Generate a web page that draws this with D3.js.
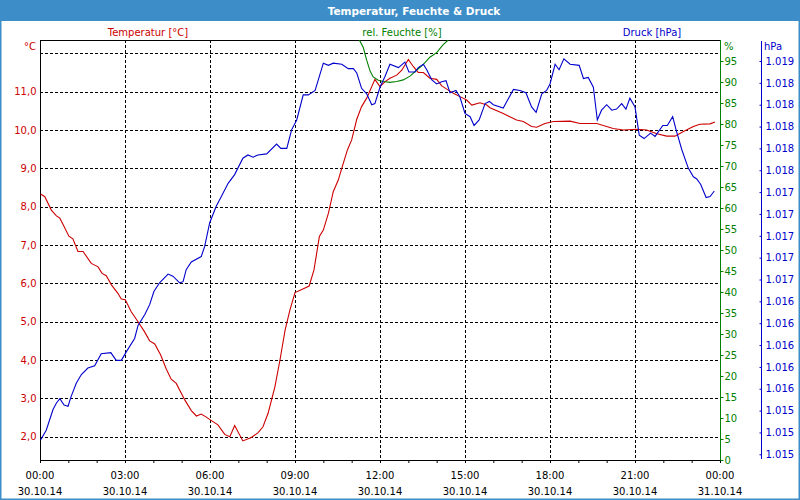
<!DOCTYPE html>
<html><head><meta charset="utf-8">
<script src="https://cdn.jsdelivr.net/npm/d3@7"></script>
<style>html,body{margin:0;padding:0;background:#fff;} svg{display:block;font-family:"DejaVu Sans",sans-serif;}</style>
</head><body><svg id="c" width="800" height="500"></svg>
<script>
const chartTitle = "Temperatur, Feuchte & Druck";
const seriesNames = ["Temperatur [°C]", "rel. Feuchte [%]", "Druck [hPa]"];
const unitLabels = ["°C", "%", "hPa"];

// hours since 30.10.14 00:00
const tempTimes = [0.02,0.17,0.40,0.58,0.70,0.85,1.02,1.16,1.34,1.52,1.81,2.05,2.19,2.34,2.52,2.75,2.87,3.01,3.22,3.46,3.67,3.87,4.05,4.26,4.46,4.63,4.81,5.11,5.34,5.52,5.69,5.87,6.05,6.28,6.52,6.70,6.87,7.16,7.46,7.69,7.87,8.05,8.29,8.47,8.65,8.82,9.00,9.24,9.50,9.67,9.86,10.00,10.18,10.35,10.53,10.65,10.85,11.00,11.18,11.35,11.53,11.82,12.00,12.18,12.35,12.59,12.77,13.00,13.18,13.35,13.53,13.76,14.00,14.18,14.41,14.59,14.82,15.06,15.24,15.53,15.77,15.88,16.35,16.82,17.06,17.35,17.53,17.82,18.12,18.71,19.06,19.65,20.23,20.59,21.06,21.41,21.77,22.12,22.41,22.71,23.06,23.29,23.65,23.82];
const tempValues = [8.33,8.26,7.91,7.76,7.70,7.48,7.23,7.16,6.83,6.83,6.52,6.43,6.26,6.20,5.96,5.74,5.59,5.57,5.26,5.00,4.76,4.50,4.42,4.13,3.76,3.50,3.39,2.96,2.68,2.54,2.59,2.51,2.42,2.31,2.06,2.00,2.29,1.89,1.98,2.10,2.26,2.61,3.30,4.00,4.78,5.30,5.76,5.84,5.93,6.35,7.22,7.39,7.83,8.39,8.70,9.00,9.48,9.74,10.28,10.61,10.83,11.32,11.13,11.26,11.35,11.43,11.56,11.84,11.65,11.50,11.50,11.35,11.32,11.15,11.04,10.96,10.87,10.78,10.65,10.71,10.65,10.58,10.43,10.26,10.22,10.09,10.07,10.17,10.22,10.23,10.17,10.17,10.04,10.00,10.02,10.00,9.90,9.84,9.84,9.96,10.09,10.15,10.16,10.21];

const humTimes = [11.27,11.41,11.53,11.65,11.76,11.94,12.12,12.35,12.59,12.82,13.06,13.29,13.53,13.76,14.00,14.23,14.41];
const humValues = [100,98.2,95.2,92.6,91.2,90.4,90.1,89.9,90.1,90.5,91.4,92.8,94.2,95.9,97.0,98.9,100];

const pressTimes = [0.02,0.22,0.46,0.58,0.70,0.85,0.99,1.10,1.28,1.46,1.69,1.93,2.16,2.50,2.69,2.87,3.05,3.34,3.46,3.70,3.87,4.02,4.22,4.52,4.69,4.93,5.05,5.16,5.34,5.69,5.81,5.99,6.22,6.40,6.64,6.87,7.16,7.34,7.52,7.69,8.00,8.35,8.50,8.71,8.88,9.06,9.29,9.47,9.71,10.00,10.18,10.35,10.65,10.88,11.06,11.18,11.35,11.53,11.71,11.82,12.00,12.18,12.35,12.65,12.88,13.02,13.24,13.35,13.53,13.65,13.82,14.00,14.18,14.33,14.47,14.68,14.82,15.00,15.18,15.32,15.50,15.71,15.86,16.00,16.35,16.71,16.94,17.15,17.35,17.51,17.71,17.88,18.00,18.18,18.32,18.49,18.71,19.03,19.18,19.35,19.53,19.67,19.82,20.00,20.18,20.35,20.53,20.68,20.82,21.00,21.15,21.32,21.55,21.71,21.98,22.14,22.33,22.45,22.65,22.88,23.06,23.18,23.32,23.51,23.65,23.80];
const pressValues = [1015.53,1015.62,1015.81,1015.87,1015.91,1015.85,1015.84,1015.93,1016.05,1016.13,1016.19,1016.21,1016.32,1016.33,1016.26,1016.26,1016.34,1016.46,1016.58,1016.68,1016.77,1016.89,1016.97,1017.05,1017.03,1016.97,1016.98,1017.09,1017.16,1017.21,1017.30,1017.52,1017.67,1017.76,1017.88,1017.96,1018.11,1018.14,1018.12,1018.14,1018.15,1018.24,1018.20,1018.20,1018.37,1018.46,1018.69,1018.69,1018.73,1018.98,1018.96,1018.98,1018.97,1018.93,1018.93,1018.89,1018.75,1018.70,1018.60,1018.61,1018.76,1018.86,1018.97,1018.94,1018.99,1018.90,1018.90,1018.94,1018.97,1018.92,1018.83,1018.79,1018.81,1018.82,1018.71,1018.73,1018.67,1018.52,1018.49,1018.41,1018.46,1018.61,1018.63,1018.60,1018.57,1018.74,1018.73,1018.71,1018.58,1018.53,1018.70,1018.73,1018.79,1018.97,1018.92,1019.02,1018.97,1018.96,1018.84,1018.85,1018.76,1018.46,1018.55,1018.60,1018.55,1018.56,1018.61,1018.56,1018.66,1018.58,1018.32,1018.29,1018.34,1018.31,1018.41,1018.41,1018.49,1018.37,1018.19,1018.02,1017.94,1017.92,1017.87,1017.75,1017.76,1017.81];

const xTickHours = [0,3,6,9,12,15,18,21,24];
const xTimeLabels = ["00:00","03:00","06:00","09:00","12:00","15:00","18:00","21:00","00:00"];
const xDateLabels = ["30.10.14","30.10.14","30.10.14","30.10.14","30.10.14","30.10.14","30.10.14","30.10.14","31.10.14"];
const tempTicks = [2,3,4,5,6,7,8,9,10,11,12];
const tempTickLabels = ["2,0","3,0","4,0","5,0","6,0","7,0","8,0","9,0","10,0","11,0",""];
const humTicks = [0,5,10,15,20,25,30,35,40,45,50,55,60,65,70,75,80,85,90,95];
const pressTicks = [1015.4,1015.6,1015.8,1016.0,1016.2,1016.4,1016.6,1016.8,1017.0,1017.2,1017.4,1017.6,1017.8,1018.0,1018.2,1018.4,1018.6,1018.8,1019.0];
const pressTickLabels = ["1.015","1.015","1.015","1.016","1.016","1.016","1.016","1.016","1.017","1.017","1.017","1.017","1.017","1.018","1.018","1.018","1.018","1.018","1.019"];

const C_RED = "#cc0000", C_GREEN = "#008000", C_BLUE = "#0000cc", C_FRAME = "#3d8ec8";
const L = 40, R = 720, T = 40, B = 460;

const svg = d3.select("#c");
const x = d3.scaleLinear().domain([0,24]).range([L,R]);
const yT = d3.scaleLinear().domain([2,12]).range([436.7,53.3]);
const yH = d3.scaleLinear().domain([0,100]).range([B,T]);
const yP = d3.scaleLinear().domain([1015.4,1019.0]).range([454.3,61]);

// window frame
svg.append("rect").attr("x",0).attr("y",0).attr("width",800).attr("height",500).attr("fill","#fff");
svg.append("rect").attr("x",0).attr("y",0).attr("width",800).attr("height",21).attr("fill",C_FRAME);
svg.append("rect").attr("x",0.75).attr("y",10).attr("width",798.5).attr("height",489.25).attr("fill","none").attr("stroke",C_FRAME).attr("stroke-width",1.5);
svg.append("text").attr("x",414).attr("y",14.5).attr("text-anchor","middle").attr("fill","#fff")
  .attr("font-weight","bold").attr("font-size","10.5px").text(chartTitle);

// series names
const nameX = [148, 402, 652], nameC = [C_RED, C_GREEN, C_BLUE];
seriesNames.forEach((n,i)=>svg.append("text").attr("x",nameX[i]).attr("y",35.5).attr("text-anchor","middle")
  .attr("fill",nameC[i]).attr("font-size","10px").text(n));

// grid
const g = svg.append("g").attr("shape-rendering","crispEdges");
g.selectAll(".hg").data(tempTicks).join("line").attr("x1",L).attr("x2",R)
  .attr("y1",d=>Math.round(yT(d))+0.5).attr("y2",d=>Math.round(yT(d))+0.5)
  .attr("stroke","#000").attr("stroke-dasharray","3,2");
g.selectAll(".vg").data(xTickHours.slice(1,-1)).join("line").attr("y1",T).attr("y2",B)
  .attr("x1",d=>Math.round(x(d))+0.5).attr("x2",d=>Math.round(x(d))+0.5)
  .attr("stroke","#000").attr("stroke-dasharray","3,2");

// x axis
const xAxis = d3.axisBottom(x).tickValues(d3.range(0,25,1)).tickSize(3).tickFormat("");
const xg = svg.append("g").attr("transform",`translate(0,${B})`).call(xAxis);
xg.select(".domain").attr("d",`M${L},0.5H${R}`).attr("stroke","#000");
xg.selectAll(".tick line").attr("stroke","#000");
xTickHours.forEach((h,i)=>{
  svg.append("text").attr("x",x(h)).attr("y",479).attr("text-anchor","middle").attr("font-size","10px").attr("fill","#000").text(xTimeLabels[i]);
  svg.append("text").attr("x",x(h)).attr("y",494.5).attr("text-anchor","middle").attr("font-size","10px").attr("fill","#000").text(xDateLabels[i]);
});

// top border & left axis
svg.append("line").attr("x1",L).attr("x2",R).attr("y1",T+0.5).attr("y2",T+0.5).attr("stroke","#000");
const yTAxis = d3.axisLeft(yT).tickValues(tempTicks).tickSize(0).tickPadding(4).tickFormat((d,i)=>tempTickLabels[i]);
const ytg = svg.append("g").attr("transform",`translate(${L+0.5},0)`).call(yTAxis);
ytg.select(".domain").attr("d",`M0,${T}V${B}`).attr("stroke","#000");
ytg.selectAll("text").attr("fill",C_RED).attr("font-size","10px").attr("font-family","DejaVu Sans");
svg.append("text").attr("x",36).attr("y",50).attr("text-anchor","end").attr("fill",C_RED).attr("font-size","10px").text(unitLabels[0]);

// humidity axis
const yHAxis = d3.axisRight(yH).tickValues(humTicks).tickSize(3).tickPadding(1).tickFormat(d3.format("d"));
const yhg = svg.append("g").attr("transform",`translate(${R+0.5},0)`).call(yHAxis);
yhg.select(".domain").attr("d",`M0,${T}V${B}`).attr("stroke",C_GREEN);
yhg.selectAll(".tick line").attr("stroke",C_GREEN);
yhg.selectAll("text").attr("fill",C_GREEN).attr("font-size","10px").attr("font-family","DejaVu Sans");
svg.append("text").attr("x",724).attr("y",50).attr("fill",C_GREEN).attr("font-size","10px").text(unitLabels[1]);

// pressure axis
const yPAxis = d3.axisRight(yP).tickValues(pressTicks).tickSize(0).tickPadding(4).tickFormat((d,i)=>pressTickLabels[i]);
const ypg = svg.append("g").attr("transform",`translate(761.5,0)`).call(yPAxis);
ypg.select(".domain").attr("d",`M0,41V459`).attr("stroke",C_BLUE);
ypg.selectAll(".tick").append("line").attr("x1",-2).attr("x2",0).attr("stroke",C_BLUE);
ypg.selectAll("text").attr("fill",C_BLUE).attr("font-size","10px").attr("font-family","DejaVu Sans");
svg.append("text").attr("x",764).attr("y",50).attr("fill",C_BLUE).attr("font-size","10px").text(unitLabels[2]);

// lines
svg.append("clipPath").attr("id","pc").append("rect").attr("x",L).attr("y",T).attr("width",R-L).attr("height",B-T);
const lines = svg.append("g").attr("clip-path","url(#pc)").attr("fill","none").attr("stroke-width",1.1);
const mk = (times, vals, ys) => d3.line().x((d,i)=>x(times[i])).y((d,i)=>ys(vals[i]))(vals);
lines.append("path").attr("d",mk(tempTimes,tempValues,yT)).attr("stroke",C_RED);
lines.append("path").attr("d",mk(humTimes,humValues,yH)).attr("stroke",C_GREEN);
lines.append("path").attr("d",mk(pressTimes,pressValues,yP)).attr("stroke",C_BLUE);
</script></body></html>
